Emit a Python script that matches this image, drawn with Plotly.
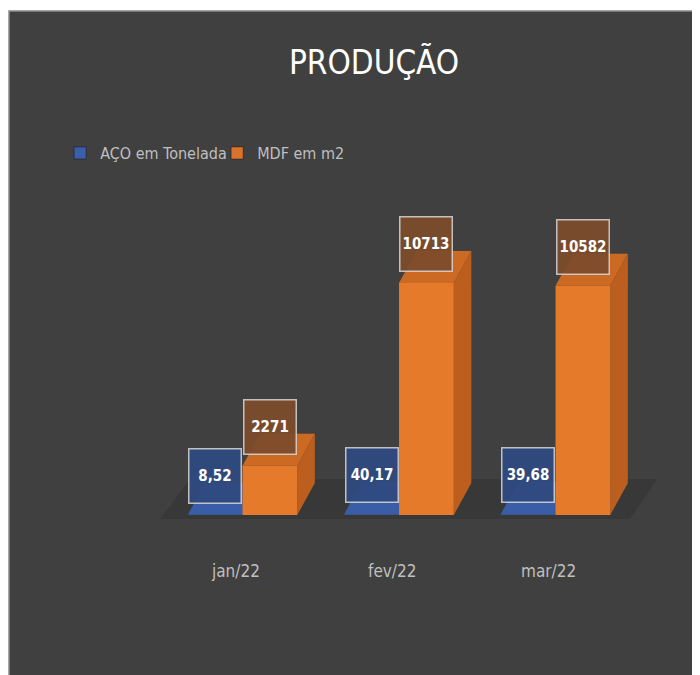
import plotly.graph_objects as go

# ---- data ----
categories = ["jan/22", "fev/22", "mar/22"]
aco_values = [8.52, 40.17, 39.68]
mdf_values = [2271, 10713, 10582]
series_names = ["AÇO em Tonelada", "MDF em m2"]
chart_title = "PRODUÇÃO"

# ---- styling / geometry (axis units) ----
FONT = "DejaVu Sans Condensed, Liberation Sans Narrow, Arial Narrow, sans-serif"
BG = "#404040"
pos = list(range(len(categories)))
BAR_W = 0.35
DX = 0.112
DY = 1480
LABEL_OFF = 1800

series = [
    dict(name=series_names[0], values=aco_values, off=-BAR_W / 2,
         front="#3A5BA5", top="#3A5DA8", side="#2B4787", legend="#3B5EA8",
         box="rgba(46,74,128,0.95)", fmt=lambda v: f"{v:.2f}".replace(".", ",")),
    dict(name=series_names[1], values=mdf_values, off=BAR_W / 2,
         front="#E57A2A", top="#CC6A24", side="#BC5F1E", legend="#D9722C",
         box="rgba(124,76,44,0.95)", fmt=lambda v: f"{v:.0f}"),
]

fig = go.Figure()

# legend entries
for s in series:
    fig.add_trace(go.Bar(x=[None], y=[None], name=s["name"],
                         marker=dict(color=s["legend"],
                                     line=dict(color="rgba(0,0,0,0.35)", width=1))))

annotations = []
for s in series:
    for p, v in zip(pos, s["values"]):
        xl = p + s["off"] - BAR_W / 2
        xr = p + s["off"] + BAR_W / 2
        # top face
        fig.add_trace(go.Scatter(x=[xl, xr, xr + DX, xl + DX, xl],
                                 y=[v, v, v + DY, v + DY, v],
                                 fill="toself", mode="none", fillcolor=s["top"],
                                 showlegend=False, hoverinfo="skip"))
        # side face
        fig.add_trace(go.Scatter(x=[xr, xr + DX, xr + DX, xr, xr],
                                 y=[0, DY, v + DY, v, 0],
                                 fill="toself", mode="none", fillcolor=s["side"],
                                 showlegend=False, hoverinfo="skip"))
        # front face
        fig.add_trace(go.Scatter(x=[xl, xr, xr, xl, xl],
                                 y=[0, 0, v, v, 0],
                                 fill="toself", mode="none", fillcolor=s["front"],
                                 showlegend=False, hoverinfo="skip"))
        annotations.append(dict(
            x=p + s["off"], y=v + LABEL_OFF, xref="x", yref="y",
            text=f"<b>{s['fmt'](v)}</b>", showarrow=False,
            font=dict(family=FONT, size=15, color="white"),
            bgcolor=s["box"], bordercolor="rgba(215,215,215,0.85)",
            borderwidth=1.5, borderpad=1, width=49, height=51,
            align="center", valign="middle"))

for p, c in zip(pos, categories):
    annotations.append(dict(x=p - 0.045, y=-2590, xref="x", yref="y", text=c,
                            showarrow=False,
                            font=dict(family=FONT, size=17, color="#BFBFBF")))

floor = dict(type="path", xref="x", yref="y", layer="below",
             path=(f"M {pos[0]-0.527},-185 L {pos[-1]+0.476},-185 "
                   f"L {pos[-1]+0.649},1662 L {pos[0]-0.335},1662 Z"),
             fillcolor="#383838", line=dict(width=0))
border = dict(type="path", xref="paper", yref="paper",
              path="M 0,0 L 0,1 L 1,1", line=dict(color="#8A8A8A", width=1.5))

fig.update_layout(
    width=692, height=667,
    margin=dict(l=1, r=0, t=3, b=0),
    paper_bgcolor="white", plot_bgcolor=BG,
    title=dict(text=chart_title, x=0.529, xanchor="center", y=0.919,
               yanchor="middle",
               font=dict(family=FONT, size=33, color="white")),
    xaxis=dict(range=[-1.492, 2.923], visible=False, fixedrange=True),
    yaxis=dict(range=[-7388, 23273], visible=False, fixedrange=True),
    legend=dict(orientation="h", x=0.074, xanchor="left", y=0.786,
                yanchor="middle", bgcolor="rgba(0,0,0,0)",
                font=dict(family=FONT, size=16, color="#BFBFBF"),
                entrywidthmode="pixels", entrywidth=112),
    shapes=[floor, border],
    annotations=annotations,
    showlegend=True,
)

fig.write_html("out.html")
